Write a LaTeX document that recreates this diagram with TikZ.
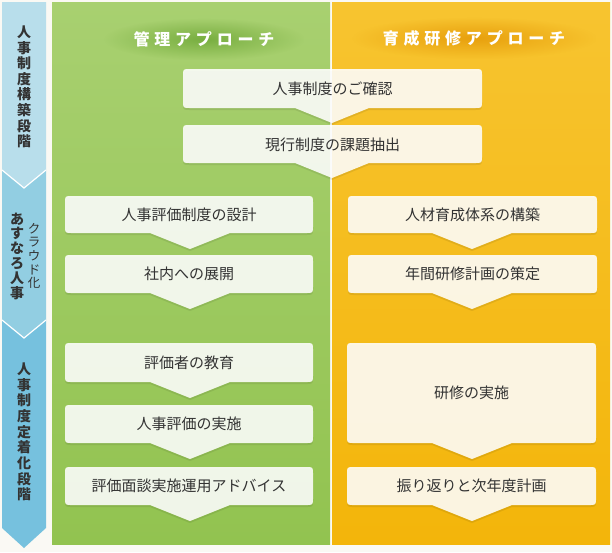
\documentclass[tikz,border=0pt]{standalone}
\usepackage{fontspec}
\usetikzlibrary{fadings}
\setmainfont{Noto Sans CJK JP}
\definecolor{bgc}{RGB}{250,249,244}
\definecolor{gtop}{RGB}{168,208,112}
\definecolor{gbot}{RGB}{146,195,80}
\definecolor{otop}{RGB}{247,196,48}
\definecolor{obot}{RGB}{243,181,10}
\definecolor{sa}{RGB}{184,222,235}
\definecolor{sb}{RGB}{146,206,226}
\definecolor{sc}{RGB}{118,193,222}
\definecolor{txt}{RGB}{51,51,51}
\definecolor{gglow}{RGB}{100,160,45}
\definecolor{oglow}{RGB}{225,145,0}
\tikzfading[name=softglow, inner color=transparent!0, outer color=transparent!100]
\newcommand\abox[8]{%
  \fill[#1] (#2+7,#3) -- (#4-7,#3) .. controls (#4,#3) .. (#4,#3+7) -- (#4,#5-7)
   .. controls (#4,#5) .. (#4-7,#5) -- (#6+#7,#5) -- (#6,#5+#8) -- (#6-#7,#5)
   -- (#2+7,#5) .. controls (#2,#5) .. (#2,#5-7) -- (#2,#3+7)
   .. controls (#2,#3) .. (#2+7,#3) -- cycle;}
\newcommand\stepbox[7]{%
  \abox{shadowbox}{#1}{#2+2}{#3}{#4+2}{#5}{#6}{#7}%
  \abox{box}{#1}{#2}{#3}{#4}{#5}{#6}{#7}}
\begin{document}
\begin{tikzpicture}[x=1pt,y=-1pt,
  box/.style={fill=white, fill opacity=0.88},
  shadowbox/.style={fill=black, fill opacity=0.08},
  lbl/.style={text=txt, font=\fontsize{15}{18}\selectfont, inner sep=0pt},
  ttl/.style={text=white, inner sep=0pt, font=\fontsize{16}{18}\selectfont\bfseries\addfontfeature{LetterSpace=30}},
  glow/.style={fill opacity=0.7, path fading=softglow, fit fading=true},
  vtxt/.style={text=txt, align=center, inner sep=0pt, font=\fontsize{14}{15.6}\selectfont\bfseries},
  vsmall/.style={text=txt, align=center, inner sep=0pt, font=\fontsize{12.5}{13.6}\selectfont}]
\useasboundingbox (0,0) rectangle (612,552);
\fill[bgc] (0,0) rectangle (612,552);
% panels
\shade[top color=gtop, bottom color=gbot] (52,2) rectangle (330,544);
\shade[top color=otop, bottom color=obot] (332,2) rectangle (610,544);
% left strip
\fill[sc] (2,320) -- (46,320) -- (46,528) -- (24,548) -- (2,528) -- cycle;
\fill[sb] (2,170) -- (46,170) -- (46,320) -- (24,338) -- (2,320) -- cycle;
\fill[sa] (2,2) -- (46,2) -- (46,170) -- (24,188) -- (2,170) -- cycle;
\draw[white, line width=1.2pt] (2,170) -- (24,188) -- (46,170);
\draw[white, line width=1.2pt] (2,320) -- (24,338) -- (46,320);
\node[vtxt] (s1) at (24,87) {人\\事\\制\\度\\構\\築\\段\\階};
\node[vtxt, font=\fontsize{14}{14.8}\selectfont\bfseries] (s2a) at (17,256) {あ\\す\\な\\ろ\\人\\事};
\node[vsmall] (s2b) at (34,256) {ク\\ラ\\ウ\\ド\\化};
\node[vtxt, font=\fontsize{14}{15.7}\selectfont\bfseries] (s3) at (24,432) {人\\事\\制\\度\\定\\着\\化\\段\\階};
% titles with soft glow
\fill[gglow, glow] (104,18) rectangle (304,60);
\fill[oglow, glow] (352,17) rectangle (596,59);
\node[ttl] (t1) at (204,39) {管理アプローチ};
\node[ttl] (t2) at (474,38) {育成研修アプローチ};
% common boxes
\stepbox{183}{69}{482}{108}{332}{37}{15}
\node[lbl] (c1) at (332.5,89) {人事制度のご確認};
\stepbox{183}{125}{482}{163}{332}{37}{15}
\node[lbl] (c2) at (332.5,145) {現行制度の課題抽出};
% left column
\stepbox{65}{196}{313}{233}{190}{40}{16}
\node[lbl] (l1) at (189,215) {人事評価制度の設計};
\stepbox{65}{255}{313}{293}{190}{40}{16}
\node[lbl] (l2) at (189,274) {社内への展開};
\stepbox{65}{343}{313}{382}{190}{40}{16}
\node[lbl] (l3) at (189,362.5) {評価者の教育};
\stepbox{65}{405}{313}{443}{190}{40}{16}
\node[lbl] (l4) at (189,424) {人事評価の実施};
\stepbox{65}{467}{313}{505}{190}{40}{16}
\node[lbl] (l5) at (189,486) {評価面談実施運用アドバイス};
% right column
\stepbox{348}{196}{597}{233}{472}{40}{16}
\node[lbl] (r1) at (472.5,215) {人材育成体系の構築};
\stepbox{348}{255}{597}{293}{472}{40}{16}
\node[lbl] (r2) at (472.5,274) {年間研修計画の策定};
\stepbox{347}{343}{596}{443}{472}{40}{16}
\node[lbl] (r3) at (471.5,393) {研修の実施};
\stepbox{347}{467}{596}{505}{472}{40}{16}
\node[lbl] (r4) at (471.5,486) {振り返りと次年度計画};
\end{tikzpicture}
\end{document}
